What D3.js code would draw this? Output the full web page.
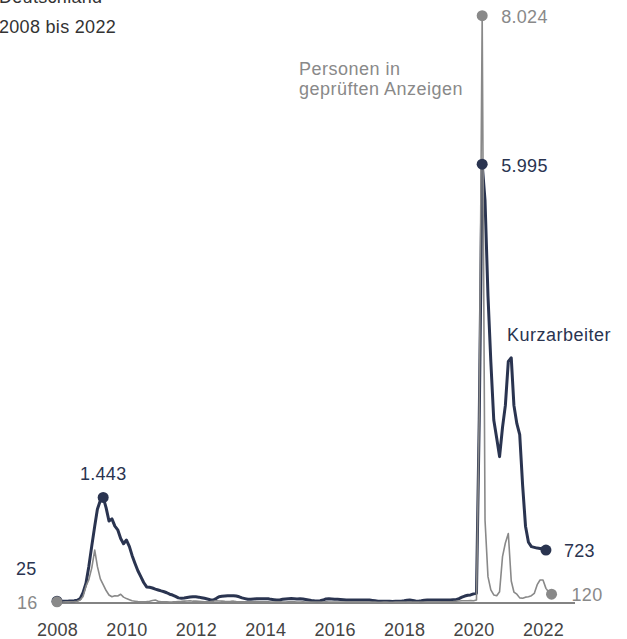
<!DOCTYPE html>
<html>
<head>
<meta charset="utf-8">
<script src="https://cdn.jsdelivr.net/npm/d3@7"></script>
<style>
  html, body { margin: 0; padding: 0; background: #fff; }
  svg { display: block; font-family: "Liberation Sans", Arial, sans-serif; }
</style>
</head>
<body>
<svg id="chart" width="627" height="639"></svg>
<script>
// Kurzarbeit in Deutschland, monthly values in thousands, starting January 2008
const startYear = 2008;

// Realised short-time workers (Kurzarbeiter), Jan 2008 – Feb 2022
const kurzarbeiter = [
  25, 24, 24, 25, 26, 28, 30, 38, 60, 140, 270, 500,          // 2008
  780, 1050, 1280, 1400, 1443, 1300, 1120, 1150, 1050, 1000, 880, 810, // 2009
  860, 770, 650, 540, 440, 360, 280, 220, 215, 205, 190, 178, // 2010
  165, 154, 140, 120, 109, 90, 70, 64, 68, 75, 82, 86,        // 2011
  84, 80, 72, 64, 55, 45, 41, 60, 86, 92, 96, 100,            // 2012
  100, 100, 95, 85, 70, 60, 51, 50, 55, 58, 59, 58,           // 2013
  59, 58, 50, 45, 41, 42, 50, 55, 59, 60, 59, 55,             // 2014
  59, 55, 48, 41, 35, 30, 27, 30, 40, 55, 59, 55,             // 2015
  50, 50, 48, 45, 41, 41, 41, 42, 41, 40, 41, 41,             // 2016
  40, 35, 30, 25, 23, 23, 24, 23, 22, 23, 23, 25,             // 2017
  30, 38, 41, 35, 28, 25, 30, 38, 41, 40, 41, 41,             // 2018
  40, 41, 41, 40, 41, 43, 45, 60, 80, 95, 105, 110,           // 2019
  125, 134, 2500, 5995, 5500, 4200, 3300, 2500, 2250, 2000, 2400, 2700, // 2020
  3300, 3350, 2700, 2450, 2300, 1600, 1050, 830, 770, 760, 750, 745,   // 2021
  740, 723                                                    // 2022
];

// Persons in checked notifications (Personen in geprüften Anzeigen), Jan 2008 – Apr 2022
const anzeigen = [
  16, 15, 14, 15, 16, 18, 20, 25, 40, 90, 230, 320,           // 2008
  480, 724, 500, 330, 250, 170, 110, 85, 100, 95, 120, 80,    // 2009
  60, 45, 30, 25, 20, 18, 18, 20, 25, 35, 41, 25,             // 2010
  18, 16, 15, 14, 15, 18, 20, 22, 25, 28, 30, 25,             // 2011
  25, 22, 20, 18, 18, 20, 25, 30, 28, 25, 22, 20,             // 2012
  22, 25, 20, 18, 16, 15, 15, 16, 18, 20, 18, 16,             // 2013
  15, 15, 14, 14, 15, 15, 14, 14, 15, 16, 15, 14,             // 2014
  14, 15, 14, 13, 13, 14, 14, 13, 14, 15, 14, 13,             // 2015
  13, 14, 13, 13, 14, 14, 13, 13, 14, 14, 13, 13,             // 2016
  12, 12, 12, 11, 11, 12, 12, 11, 11, 12, 12, 12,             // 2017
  12, 13, 13, 12, 12, 12, 13, 13, 13, 14, 14, 14,             // 2018
  14, 15, 15, 16, 18, 20, 25, 28, 30, 30, 30, 32,             // 2019
  30, 40, 2600, 8024, 1130, 360, 180, 110, 100, 154, 633, 820, // 2020
  950, 300, 150, 120, 70, 64, 80, 86, 100, 130, 250, 314,     // 2021
  314, 200, 150, 120                                          // 2022
];

const yearTicks = [2008, 2010, 2012, 2014, 2016, 2018, 2020, 2022];
const titleLines = ["Deutschland", "2008 bis 2022"];
const seriesNames = { kurz: "Kurzarbeiter", anz: ["Personen in", "geprüften Anzeigen"] };

const C_DARK = "#2a3450";
const C_GREY = "#898989";
const C_TEXT = "#444";

const de = d3.formatLocale({ decimal: ",", thousands: ".", grouping: [3], currency: ["", " €"] });
const fmt = de.format(",");

const monthDate = i => new Date(startYear, i, 1);

const svg = d3.select("#chart");

const x = d3.scaleTime()
  .domain([new Date(2008, 0, 1), new Date(2022, 0, 1)])
  .range([57, 543]);
const y = d3.scaleLinear()
  .domain([0, 8024])
  .range([603, 15.7]);

// title (top-left, partly above the canvas)
svg.append("g").selectAll("text")
  .data(titleLines)
  .join("text")
  .attr("x", -1)
  .attr("y", (d, i) => 3 + i * 30)
  .attr("fill", "#333")
  .attr("font-size", 18)
  .attr("letter-spacing", 0.3)
  .text(d => d);

// baseline
svg.append("line")
  .attr("x1", x(monthDate(0))).attr("x2", 575)
  .attr("y1", y(0)).attr("y2", y(0))
  .attr("stroke", "#5a5a5a").attr("stroke-width", 1.5);

// x axis labels
const xAxis = d3.axisBottom(x)
  .tickValues(yearTicks.map(yr => new Date(yr, 0, 1)))
  .tickFormat(d3.timeFormat("%Y"))
  .tickSize(0)
  .tickPadding(0);
const gx = svg.append("g")
  .attr("transform", "translate(0,622)")
  .call(xAxis);
gx.select(".domain").remove();
gx.selectAll("text")
  .attr("font-family", "Liberation Sans, Arial, sans-serif")
  .attr("font-size", 18)
  .attr("letter-spacing", 0.3)
  .attr("fill", C_TEXT)
  .attr("dy", "0.8em");

const line = d3.line()
  .x((d, i) => x(monthDate(i)))
  .y(d => y(d))
  .curve(d3.curveLinear);

// dark series: Kurzarbeiter
svg.append("path")
  .datum(kurzarbeiter)
  .attr("d", line)
  .attr("fill", "none")
  .attr("stroke", C_DARK)
  .attr("stroke-width", 3)
  .attr("stroke-linejoin", "round");

// grey series: Personen in geprüften Anzeigen
svg.append("path")
  .datum(anzeigen)
  .attr("d", line)
  .attr("fill", "none")
  .attr("stroke", C_GREY)
  .attr("stroke-width", 1.6)
  .attr("stroke-linejoin", "round");

// highlighted points
const kPeak09 = d3.maxIndex(kurzarbeiter.slice(0, 36));
const kPeak20 = d3.maxIndex(kurzarbeiter);
const kLast = kurzarbeiter.length - 1;
const aPeak = d3.maxIndex(anzeigen);
const aLast = anzeigen.length - 1;

const dots = [
  { i: kPeak09, v: kurzarbeiter[kPeak09], c: C_DARK },
  { i: kPeak20, v: kurzarbeiter[kPeak20], c: C_DARK },
  { i: kLast, v: kurzarbeiter[kLast], c: C_DARK },
  { i: 0, v: kurzarbeiter[0], c: C_DARK },
  { i: aPeak, v: anzeigen[aPeak], c: C_GREY },
  { i: aLast, v: anzeigen[aLast], c: C_GREY },
  { i: 0, v: anzeigen[0], c: C_GREY }
];
svg.append("g").selectAll("circle")
  .data(dots)
  .join("circle")
  .attr("cx", d => x(monthDate(d.i)))
  .attr("cy", d => y(d.v))
  .attr("r", 5.5)
  .attr("fill", d => d.c);

// value labels
const labels = [
  { t: fmt(anzeigen[aPeak]), x: x(monthDate(aPeak)) + 19, y: y(anzeigen[aPeak]) + 7.5, c: C_GREY, a: "start" },
  { t: fmt(kurzarbeiter[kPeak20]), x: x(monthDate(kPeak20)) + 19, y: y(kurzarbeiter[kPeak20]) + 7.5, c: C_DARK, a: "start" },
  { t: fmt(kurzarbeiter[kPeak09]), x: x(monthDate(kPeak09)), y: y(kurzarbeiter[kPeak09]) - 17, c: C_DARK, a: "middle" },
  { t: fmt(kurzarbeiter[kLast]), x: x(monthDate(kLast)) + 18, y: y(kurzarbeiter[kLast]) + 7, c: C_DARK, a: "start" },
  { t: fmt(anzeigen[aLast]), x: x(monthDate(aLast)) + 20, y: y(anzeigen[aLast]) + 7, c: C_GREY, a: "start" },
  { t: fmt(kurzarbeiter[0]), x: 16, y: 575, c: C_DARK, a: "start" },
  { t: fmt(anzeigen[0]), x: 17, y: 609, c: C_GREY, a: "start" }
];
svg.append("g").selectAll("text")
  .data(labels)
  .join("text")
  .attr("x", d => d.x)
  .attr("y", d => d.y)
  .attr("text-anchor", d => d.a)
  .attr("fill", d => d.c)
  .attr("font-size", 18)
  .attr("letter-spacing", 0.3)
  .text(d => d.t);

// series names
svg.append("text")
  .attr("x", 507).attr("y", 341)
  .attr("fill", C_DARK)
  .attr("font-size", 18)
  .attr("letter-spacing", 0.5)
  .text(seriesNames.kurz);

svg.append("g").selectAll("text")
  .data(seriesNames.anz)
  .join("text")
  .attr("x", 299)
  .attr("y", (d, i) => 75 + i * 20)
  .attr("fill", C_GREY)
  .attr("font-size", 18)
  .attr("letter-spacing", 0.5)
  .text(d => d);
</script>
</body>
</html>
